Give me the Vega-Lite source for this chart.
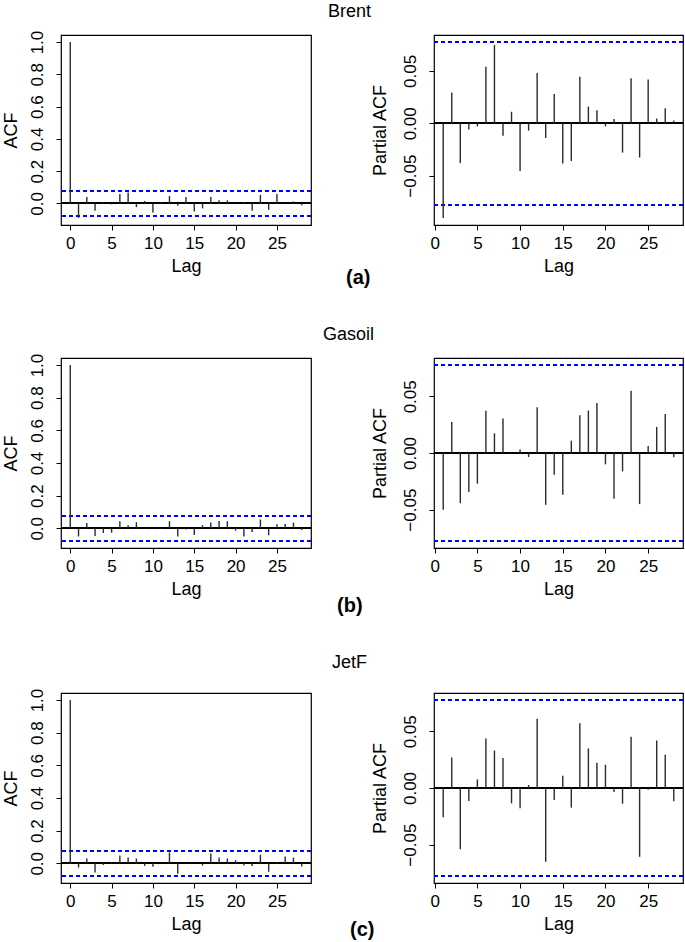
{
  "$schema": "https://vega.github.io/schema/vega-lite/v6.json",
  "background": "white",
  "padding": {"left": 1, "top": 2, "right": 0, "bottom": 0},
  "datasets": {
    "acf": [
      {"series":"Brent","fn":"ACF","lag":0,"value":1},{"series":"Brent","fn":"ACF","lag":1,"value":-0.0904},{"series":"Brent","fn":"ACF","lag":2,"value":0.040},{"series":"Brent","fn":"ACF","lag":3,"value":-0.046},{"series":"Brent","fn":"ACF","lag":4,"value":0.006},{"series":"Brent","fn":"ACF","lag":5,"value":-0.006},{"series":"Brent","fn":"ACF","lag":6,"value":0.058},{"series":"Brent","fn":"ACF","lag":7,"value":0.067},{"series":"Brent","fn":"ACF","lag":8,"value":-0.023},{"series":"Brent","fn":"ACF","lag":9,"value":0.015},{"series":"Brent","fn":"ACF","lag":10,"value":-0.056},{"series":"Brent","fn":"ACF","lag":11,"value":0.008},{"series":"Brent","fn":"ACF","lag":12,"value":0.046},{"series":"Brent","fn":"ACF","lag":13,"value":-0.015},{"series":"Brent","fn":"ACF","lag":14,"value":0.040},{"series":"Brent","fn":"ACF","lag":15,"value":-0.050},{"series":"Brent","fn":"ACF","lag":16,"value":-0.031},{"series":"Brent","fn":"ACF","lag":17,"value":0.040},{"series":"Brent","fn":"ACF","lag":18,"value":0.019},{"series":"Brent","fn":"ACF","lag":19,"value":0.019},{"series":"Brent","fn":"ACF","lag":20,"value":-0.003},{"series":"Brent","fn":"ACF","lag":21,"value":0.008},{"series":"Brent","fn":"ACF","lag":22,"value":-0.046},{"series":"Brent","fn":"ACF","lag":23,"value":0.052},{"series":"Brent","fn":"ACF","lag":24,"value":-0.040},{"series":"Brent","fn":"ACF","lag":25,"value":0.058},{"series":"Brent","fn":"ACF","lag":26,"value":0.002},{"series":"Brent","fn":"ACF","lag":27,"value":0.012},{"series":"Brent","fn":"ACF","lag":28,"value":-0.012},
      {"series":"Gasoil","fn":"ACF","lag":0,"value":1},{"series":"Gasoil","fn":"ACF","lag":1,"value":-0.050},{"series":"Gasoil","fn":"ACF","lag":2,"value":0.033},{"series":"Gasoil","fn":"ACF","lag":3,"value":-0.047},{"series":"Gasoil","fn":"ACF","lag":4,"value":-0.029},{"series":"Gasoil","fn":"ACF","lag":5,"value":-0.027},{"series":"Gasoil","fn":"ACF","lag":6,"value":0.043},{"series":"Gasoil","fn":"ACF","lag":7,"value":0.019},{"series":"Gasoil","fn":"ACF","lag":8,"value":0.037},{"series":"Gasoil","fn":"ACF","lag":9,"value":-0.003},{"series":"Gasoil","fn":"ACF","lag":10,"value":0.002},{"series":"Gasoil","fn":"ACF","lag":11,"value":-0.004},{"series":"Gasoil","fn":"ACF","lag":12,"value":0.043},{"series":"Gasoil","fn":"ACF","lag":13,"value":-0.051},{"series":"Gasoil","fn":"ACF","lag":14,"value":-0.008},{"series":"Gasoil","fn":"ACF","lag":15,"value":-0.041},{"series":"Gasoil","fn":"ACF","lag":16,"value":0.019},{"series":"Gasoil","fn":"ACF","lag":17,"value":0.035},{"series":"Gasoil","fn":"ACF","lag":18,"value":0.045},{"series":"Gasoil","fn":"ACF","lag":19,"value":0.043},{"series":"Gasoil","fn":"ACF","lag":20,"value":-0.014},{"series":"Gasoil","fn":"ACF","lag":21,"value":-0.051},{"series":"Gasoil","fn":"ACF","lag":22,"value":-0.023},{"series":"Gasoil","fn":"ACF","lag":23,"value":0.054},{"series":"Gasoil","fn":"ACF","lag":24,"value":-0.043},{"series":"Gasoil","fn":"ACF","lag":25,"value":0.025},{"series":"Gasoil","fn":"ACF","lag":26,"value":0.027},{"series":"Gasoil","fn":"ACF","lag":27,"value":0.035},{"series":"Gasoil","fn":"ACF","lag":28,"value":-0.010},
      {"series":"JetF","fn":"ACF","lag":0,"value":1},{"series":"JetF","fn":"ACF","lag":1,"value":-0.026},{"series":"JetF","fn":"ACF","lag":2,"value":0.029},{"series":"JetF","fn":"ACF","lag":3,"value":-0.056},{"series":"JetF","fn":"ACF","lag":4,"value":-0.010},{"series":"JetF","fn":"ACF","lag":5,"value":0.008},{"series":"JetF","fn":"ACF","lag":6,"value":0.047},{"series":"JetF","fn":"ACF","lag":7,"value":0.035},{"series":"JetF","fn":"ACF","lag":8,"value":0.029},{"series":"JetF","fn":"ACF","lag":9,"value":-0.016},{"series":"JetF","fn":"ACF","lag":10,"value":-0.021},{"series":"JetF","fn":"ACF","lag":11,"value":0.002},{"series":"JetF","fn":"ACF","lag":12,"value":0.066},{"series":"JetF","fn":"ACF","lag":13,"value":-0.064},{"series":"JetF","fn":"ACF","lag":14,"value":-0.003},{"series":"JetF","fn":"ACF","lag":15,"value":0.004},{"series":"JetF","fn":"ACF","lag":16,"value":-0.014},{"series":"JetF","fn":"ACF","lag":17,"value":0.060},{"series":"JetF","fn":"ACF","lag":18,"value":0.035},{"series":"JetF","fn":"ACF","lag":19,"value":0.029},{"series":"JetF","fn":"ACF","lag":20,"value":0.019},{"series":"JetF","fn":"ACF","lag":21,"value":-0.014},{"series":"JetF","fn":"ACF","lag":22,"value":-0.016},{"series":"JetF","fn":"ACF","lag":23,"value":0.052},{"series":"JetF","fn":"ACF","lag":24,"value":-0.052},{"series":"JetF","fn":"ACF","lag":25,"value":0.008},{"series":"JetF","fn":"ACF","lag":26,"value":0.041},{"series":"JetF","fn":"ACF","lag":27,"value":0.035},{"series":"JetF","fn":"ACF","lag":28,"value":-0.019},
      {"series":"Brent","fn":"PACF","lag":1,"value":-0.0904},{"series":"Brent","fn":"PACF","lag":2,"value":0.0295},{"series":"Brent","fn":"PACF","lag":3,"value":-0.038},{"series":"Brent","fn":"PACF","lag":4,"value":-0.006},{"series":"Brent","fn":"PACF","lag":5,"value":-0.003},{"series":"Brent","fn":"PACF","lag":6,"value":0.054},{"series":"Brent","fn":"PACF","lag":7,"value":0.0747},{"series":"Brent","fn":"PACF","lag":8,"value":-0.012},{"series":"Brent","fn":"PACF","lag":9,"value":0.011},{"series":"Brent","fn":"PACF","lag":10,"value":-0.0455},{"series":"Brent","fn":"PACF","lag":11,"value":-0.007},{"series":"Brent","fn":"PACF","lag":12,"value":0.048},{"series":"Brent","fn":"PACF","lag":13,"value":-0.014},{"series":"Brent","fn":"PACF","lag":14,"value":0.028},{"series":"Brent","fn":"PACF","lag":15,"value":-0.0385},{"series":"Brent","fn":"PACF","lag":16,"value":-0.036},{"series":"Brent","fn":"PACF","lag":17,"value":0.0445},{"series":"Brent","fn":"PACF","lag":18,"value":0.016},{"series":"Brent","fn":"PACF","lag":19,"value":0.0125},{"series":"Brent","fn":"PACF","lag":20,"value":-0.003},{"series":"Brent","fn":"PACF","lag":21,"value":0.004},{"series":"Brent","fn":"PACF","lag":22,"value":-0.028},{"series":"Brent","fn":"PACF","lag":23,"value":0.043},{"series":"Brent","fn":"PACF","lag":24,"value":-0.0327},{"series":"Brent","fn":"PACF","lag":25,"value":0.0417},{"series":"Brent","fn":"PACF","lag":26,"value":0.0045},{"series":"Brent","fn":"PACF","lag":27,"value":0.0144},{"series":"Brent","fn":"PACF","lag":28,"value":0.0026},
      {"series":"Gasoil","fn":"PACF","lag":1,"value":-0.050},{"series":"Gasoil","fn":"PACF","lag":2,"value":0.0274},{"series":"Gasoil","fn":"PACF","lag":3,"value":-0.0442},{"series":"Gasoil","fn":"PACF","lag":4,"value":-0.0345},{"series":"Gasoil","fn":"PACF","lag":5,"value":-0.0271},{"series":"Gasoil","fn":"PACF","lag":6,"value":0.0372},{"series":"Gasoil","fn":"PACF","lag":7,"value":0.0174},{"series":"Gasoil","fn":"PACF","lag":8,"value":0.0304},{"series":"Gasoil","fn":"PACF","lag":9,"value":0.001},{"series":"Gasoil","fn":"PACF","lag":10,"value":0.003},{"series":"Gasoil","fn":"PACF","lag":11,"value":-0.0035},{"series":"Gasoil","fn":"PACF","lag":12,"value":0.0404},{"series":"Gasoil","fn":"PACF","lag":13,"value":-0.0457},{"series":"Gasoil","fn":"PACF","lag":14,"value":-0.0192},{"series":"Gasoil","fn":"PACF","lag":15,"value":-0.0369},{"series":"Gasoil","fn":"PACF","lag":16,"value":0.0109},{"series":"Gasoil","fn":"PACF","lag":17,"value":0.0333},{"series":"Gasoil","fn":"PACF","lag":18,"value":0.0375},{"series":"Gasoil","fn":"PACF","lag":19,"value":0.044},{"series":"Gasoil","fn":"PACF","lag":20,"value":-0.010},{"series":"Gasoil","fn":"PACF","lag":21,"value":-0.0404},{"series":"Gasoil","fn":"PACF","lag":22,"value":-0.0162},{"series":"Gasoil","fn":"PACF","lag":23,"value":0.0549},{"series":"Gasoil","fn":"PACF","lag":24,"value":-0.0451},{"series":"Gasoil","fn":"PACF","lag":25,"value":0.0062},{"series":"Gasoil","fn":"PACF","lag":26,"value":0.023},{"series":"Gasoil","fn":"PACF","lag":27,"value":0.0345},{"series":"Gasoil","fn":"PACF","lag":28,"value":-0.0038},
      {"series":"JetF","fn":"PACF","lag":1,"value":-0.0258},{"series":"JetF","fn":"PACF","lag":2,"value":0.027},{"series":"JetF","fn":"PACF","lag":3,"value":-0.054},{"series":"JetF","fn":"PACF","lag":4,"value":-0.0114},{"series":"JetF","fn":"PACF","lag":5,"value":0.0076},{"series":"JetF","fn":"PACF","lag":6,"value":0.0437},{"series":"JetF","fn":"PACF","lag":7,"value":0.0331},{"series":"JetF","fn":"PACF","lag":8,"value":0.0264},{"series":"JetF","fn":"PACF","lag":9,"value":-0.0135},{"series":"JetF","fn":"PACF","lag":10,"value":-0.0179},{"series":"JetF","fn":"PACF","lag":11,"value":0.0026},{"series":"JetF","fn":"PACF","lag":12,"value":0.061},{"series":"JetF","fn":"PACF","lag":13,"value":-0.0651},{"series":"JetF","fn":"PACF","lag":14,"value":-0.0106},{"series":"JetF","fn":"PACF","lag":15,"value":0.0109},{"series":"JetF","fn":"PACF","lag":16,"value":-0.0173},{"series":"JetF","fn":"PACF","lag":17,"value":0.0572},{"series":"JetF","fn":"PACF","lag":18,"value":0.0349},{"series":"JetF","fn":"PACF","lag":19,"value":0.0223},{"series":"JetF","fn":"PACF","lag":20,"value":0.0205},{"series":"JetF","fn":"PACF","lag":21,"value":-0.0035},{"series":"JetF","fn":"PACF","lag":22,"value":-0.0138},{"series":"JetF","fn":"PACF","lag":23,"value":0.0452},{"series":"JetF","fn":"PACF","lag":24,"value":-0.0607},{"series":"JetF","fn":"PACF","lag":25,"value":-0.0015},{"series":"JetF","fn":"PACF","lag":26,"value":0.0419},{"series":"JetF","fn":"PACF","lag":27,"value":0.0293},{"series":"JetF","fn":"PACF","lag":28,"value":-0.0117}
    ]
  },
  "spacing": 36,
  "vconcat": [
    {
      "bounds": "flush",
      "spacing": 123,
      "hconcat": [
        {
          "width": 250, "height": 190,
          "title": {"text": "Brent", "anchor": "start", "frame": "group", "dx": 267, "offset": -5, "baseline": "alphabetic"},
          "data": {"name": "acf"},
          "transform": [{"filter": "datum.series === 'Brent' && datum.fn === 'ACF'"}],
          "layer": [
            {"mark": {"type": "rule", "color": "#000000", "strokeWidth": 1.2}, "encoding": {"y": {"datum": 0, "type": "quantitative"}}},
            {"mark": {"type": "rule", "color": "#0000ff", "strokeWidth": 1.1, "strokeDash": [4, 3]}, "encoding": {"y": {"datum": 0.0776, "type": "quantitative"}}},
            {"mark": {"type": "rule", "color": "#0000ff", "strokeWidth": 1.1, "strokeDash": [4, 3]}, "encoding": {"y": {"datum": -0.0776, "type": "quantitative"}}},
            {"mark": {"type": "rule", "color": "#2b2b2b", "strokeWidth": 1.4},
             "encoding": {
               "x": {"field": "lag", "type": "quantitative", "scale": {"domain": [-1.12, 29.12], "nice": false, "zero": false}, "axis": {"title": "Lag", "values": [0, 5, 10, 15, 20, 25], "tickCount": 20}},
               "y": {"field": "value", "type": "quantitative", "scale": {"domain": [-0.134, 1.0436], "nice": false, "zero": false}, "axis": {"title": "ACF", "values": [0, 0.2, 0.4, 0.6, 0.8, 1], "tickCount": 20, "format": ".1f", "titlePadding": 8}},
               "y2": {"datum": 0}
             }}
          ]
        },
        {
          "width": 249, "height": 190,
          "title": {"text": "(a)", "orient": "bottom", "anchor": "start", "frame": "group", "dx": -88, "offset": -7, "baseline": "top", "fontWeight": "bold", "fontSize": 20},
          "data": {"name": "acf"},
          "transform": [{"filter": "datum.series === 'Brent' && datum.fn === 'PACF'"}],
          "layer": [
            {"mark": {"type": "rule", "color": "#000000", "strokeWidth": 1.2}, "encoding": {"y": {"datum": 0, "type": "quantitative"}}},
            {"mark": {"type": "rule", "color": "#0000ff", "strokeWidth": 1.1, "strokeDash": [4, 3]}, "encoding": {"y": {"datum": 0.0776, "type": "quantitative"}}},
            {"mark": {"type": "rule", "color": "#0000ff", "strokeWidth": 1.1, "strokeDash": [4, 3]}, "encoding": {"y": {"datum": -0.0776, "type": "quantitative"}}},
            {"mark": {"type": "rule", "color": "#2b2b2b", "strokeWidth": 1.4},
             "encoding": {
               "x": {"field": "lag", "type": "quantitative", "scale": {"domain": [-0.08, 29.08], "nice": false, "zero": false}, "axis": {"title": "Lag", "values": [0, 5, 10, 15, 20, 25], "tickCount": 20}},
               "y": {"field": "value", "type": "quantitative", "scale": {"domain": [-0.0971, 0.0843], "nice": false, "zero": false}, "axis": {"title": "Partial ACF", "values": [-0.05, 0, 0.05], "tickCount": 20, "format": ".2f", "titlePadding": 12}},
               "y2": {"datum": 0}
             }}
          ]
        }
      ]
    },
    {
      "bounds": "flush",
      "spacing": 123,
      "hconcat": [
        {
          "width": 250, "height": 190,
          "title": {"text": "Gasoil", "anchor": "start", "frame": "group", "dx": 262, "offset": -4.5, "baseline": "alphabetic"},
          "data": {"name": "acf"},
          "transform": [{"filter": "datum.series === 'Gasoil' && datum.fn === 'ACF'"}],
          "layer": [
            {"mark": {"type": "rule", "color": "#000000", "strokeWidth": 1.2}, "encoding": {"y": {"datum": 0, "type": "quantitative"}}},
            {"mark": {"type": "rule", "color": "#0000ff", "strokeWidth": 1.1, "strokeDash": [4, 3]}, "encoding": {"y": {"datum": 0.0776, "type": "quantitative"}}},
            {"mark": {"type": "rule", "color": "#0000ff", "strokeWidth": 1.1, "strokeDash": [4, 3]}, "encoding": {"y": {"datum": -0.0776, "type": "quantitative"}}},
            {"mark": {"type": "rule", "color": "#2b2b2b", "strokeWidth": 1.4},
             "encoding": {
               "x": {"field": "lag", "type": "quantitative", "scale": {"domain": [-1.12, 29.12], "nice": false, "zero": false}, "axis": {"title": "Lag", "values": [0, 5, 10, 15, 20, 25], "tickCount": 20}},
               "y": {"field": "value", "type": "quantitative", "scale": {"domain": [-0.1207, 1.0431], "nice": false, "zero": false}, "axis": {"title": "ACF", "values": [0, 0.2, 0.4, 0.6, 0.8, 1], "tickCount": 20, "format": ".1f", "titlePadding": 8}},
               "y2": {"datum": 0}
             }}
          ]
        },
        {
          "width": 249, "height": 190,
          "title": {"text": "(b)", "orient": "bottom", "anchor": "start", "frame": "group", "dx": -97, "offset": -2, "baseline": "top", "fontWeight": "bold", "fontSize": 20},
          "data": {"name": "acf"},
          "transform": [{"filter": "datum.series === 'Gasoil' && datum.fn === 'PACF'"}],
          "layer": [
            {"mark": {"type": "rule", "color": "#000000", "strokeWidth": 1.2}, "encoding": {"y": {"datum": 0, "type": "quantitative"}}},
            {"mark": {"type": "rule", "color": "#0000ff", "strokeWidth": 1.1, "strokeDash": [4, 3]}, "encoding": {"y": {"datum": 0.0776, "type": "quantitative"}}},
            {"mark": {"type": "rule", "color": "#0000ff", "strokeWidth": 1.1, "strokeDash": [4, 3]}, "encoding": {"y": {"datum": -0.0776, "type": "quantitative"}}},
            {"mark": {"type": "rule", "color": "#2b2b2b", "strokeWidth": 1.4},
             "encoding": {
               "x": {"field": "lag", "type": "quantitative", "scale": {"domain": [-0.08, 29.08], "nice": false, "zero": false}, "axis": {"title": "Lag", "values": [0, 5, 10, 15, 20, 25], "tickCount": 20}},
               "y": {"field": "value", "type": "quantitative", "scale": {"domain": [-0.0838, 0.0838], "nice": false, "zero": false}, "axis": {"title": "Partial ACF", "values": [-0.05, 0, 0.05], "tickCount": 20, "format": ".2f", "titlePadding": 12}},
               "y2": {"datum": 0}
             }}
          ]
        }
      ]
    },
    {
      "bounds": "flush",
      "spacing": 123,
      "hconcat": [
        {
          "width": 250, "height": 190,
          "title": {"text": "JetF", "anchor": "start", "frame": "group", "dx": 271, "offset": 2, "baseline": "alphabetic"},
          "data": {"name": "acf"},
          "transform": [{"filter": "datum.series === 'JetF' && datum.fn === 'ACF'"}],
          "layer": [
            {"mark": {"type": "rule", "color": "#000000", "strokeWidth": 1.2}, "encoding": {"y": {"datum": 0, "type": "quantitative"}}},
            {"mark": {"type": "rule", "color": "#0000ff", "strokeWidth": 1.1, "strokeDash": [4, 3]}, "encoding": {"y": {"datum": 0.0776, "type": "quantitative"}}},
            {"mark": {"type": "rule", "color": "#0000ff", "strokeWidth": 1.1, "strokeDash": [4, 3]}, "encoding": {"y": {"datum": -0.0776, "type": "quantitative"}}},
            {"mark": {"type": "rule", "color": "#2b2b2b", "strokeWidth": 1.4},
             "encoding": {
               "x": {"field": "lag", "type": "quantitative", "scale": {"domain": [-1.12, 29.12], "nice": false, "zero": false}, "axis": {"title": "Lag", "values": [0, 5, 10, 15, 20, 25], "tickCount": 20}},
               "y": {"field": "value", "type": "quantitative", "scale": {"domain": [-0.1207, 1.0431], "nice": false, "zero": false}, "axis": {"title": "ACF", "values": [0, 0.2, 0.4, 0.6, 0.8, 1], "tickCount": 20, "format": ".1f", "titlePadding": 8}},
               "y2": {"datum": 0}
             }}
          ]
        },
        {
          "width": 249, "height": 190,
          "title": {"text": "(c)", "orient": "bottom", "anchor": "start", "frame": "group", "dx": -84, "offset": -13, "baseline": "top", "fontWeight": "bold", "fontSize": 20},
          "data": {"name": "acf"},
          "transform": [{"filter": "datum.series === 'JetF' && datum.fn === 'PACF'"}],
          "layer": [
            {"mark": {"type": "rule", "color": "#000000", "strokeWidth": 1.2}, "encoding": {"y": {"datum": 0, "type": "quantitative"}}},
            {"mark": {"type": "rule", "color": "#0000ff", "strokeWidth": 1.1, "strokeDash": [4, 3]}, "encoding": {"y": {"datum": 0.0776, "type": "quantitative"}}},
            {"mark": {"type": "rule", "color": "#0000ff", "strokeWidth": 1.1, "strokeDash": [4, 3]}, "encoding": {"y": {"datum": -0.0776, "type": "quantitative"}}},
            {"mark": {"type": "rule", "color": "#2b2b2b", "strokeWidth": 1.4},
             "encoding": {
               "x": {"field": "lag", "type": "quantitative", "scale": {"domain": [-0.08, 29.08], "nice": false, "zero": false}, "axis": {"title": "Lag", "values": [0, 5, 10, 15, 20, 25], "tickCount": 20}},
               "y": {"field": "value", "type": "quantitative", "scale": {"domain": [-0.0838, 0.0838], "nice": false, "zero": false}, "axis": {"title": "Partial ACF", "values": [-0.05, 0, 0.05], "tickCount": 20, "format": ".2f", "titlePadding": 12}},
               "y2": {"datum": 0}
             }}
          ]
        }
      ]
    }
  ],
  "config": {
    "font": "Liberation Sans",
    "view": {"stroke": "#000000", "strokeWidth": 1.2},
    "title": {"font": "Liberation Sans", "fontSize": 18, "fontWeight": "normal", "color": "#000000"},
    "axis": {"domain": false, "grid": false, "tickColor": "#000000", "tickSize": 5, "tickWidth": 1, "labelFont": "Liberation Sans", "labelFontSize": 17, "labelColor": "#000000", "labelFlush": false, "labelOverlap": false, "titleFont": "Liberation Sans", "titleFontSize": 18, "titleFontWeight": "normal", "titleColor": "#000000"},
    "axisX": {"labelPadding": 5, "titlePadding": 6},
    "axisY": {"labelAngle": 270, "labelAlign": "center", "labelBaseline": "bottom", "labelPadding": 10}
  }
}
